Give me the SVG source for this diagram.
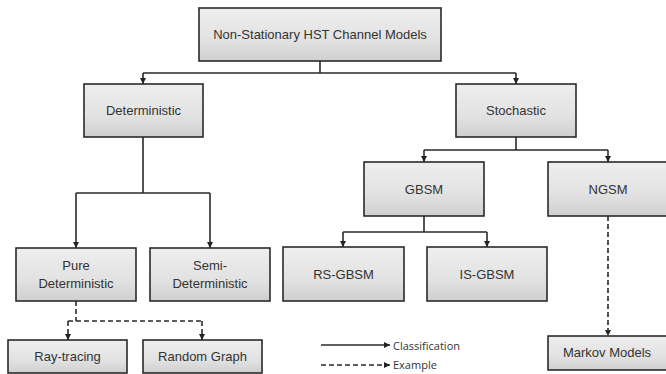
<svg xmlns="http://www.w3.org/2000/svg" width="666" height="374" viewBox="0 0 666 374">
<defs>
<linearGradient id="g" x1="0" y1="0" x2="0" y2="1">
<stop offset="0" stop-color="#eeeeee"/>
<stop offset="0.6" stop-color="#e2e2e2"/>
<stop offset="1" stop-color="#cfcfcf"/>
</linearGradient>
<marker id="ah" markerWidth="7" markerHeight="7" refX="6" refY="3" orient="auto" markerUnits="userSpaceOnUse">
<path d="M0,0 L6,3 L0,6 z" fill="#222"/>
</marker>
</defs>
<style>
.box{fill:url(#g);stroke:#2a2a2a;stroke-width:1.6}
.t{font-family:"Liberation Sans",Arial,sans-serif;font-size:13px;fill:#333;text-anchor:middle;dominant-baseline:central}
.lt{font-family:"Open Sans","Liberation Sans",sans-serif;font-size:11px;fill:#333;dominant-baseline:central}
.c{fill:none;stroke:#2a2a2a;stroke-width:1.6}
.ca{fill:none;stroke:#2a2a2a;stroke-width:1.6;marker-end:url(#ah)}
.d{fill:none;stroke:#2a2a2a;stroke-width:1.6;stroke-dasharray:5,3}
.da{fill:none;stroke:#2a2a2a;stroke-width:1.6;stroke-dasharray:5,3;marker-end:url(#ah)}
</style>
<g id="connectors">
<path class="c" d="M320,61 V73 M143,73 H516"/>
<path class="ca" d="M143,73 V84"/>
<path class="ca" d="M516,73 V84"/>
<path class="c" d="M143,137 V193 M76,193 H210"/>
<path class="ca" d="M76,193 V248"/>
<path class="ca" d="M210,193 V248"/>
<path class="c" d="M516,137 V150 M424,150 H608"/>
<path class="ca" d="M424,150 V162"/>
<path class="ca" d="M608,150 V162"/>
<path class="c" d="M424,216 V232 M343,232 H487"/>
<path class="ca" d="M343,232 V247"/>
<path class="ca" d="M487,232 V247"/>
<path class="d" d="M76,301 V321 M68,321 H202"/>
<path class="da" d="M68,321 V340"/>
<path class="da" d="M202,321 V340"/>
<path class="da" d="M608,216 V336"/>
<path class="ca" d="M321,345 H390"/>
<path class="da" d="M321,365 H390"/>
</g>
<g id="root"><rect class="box" x="199" y="8" width="242" height="53"/><text class="t" x="320" y="34.5">Non-Stationary HST Channel Models</text></g>
<g id="deterministic"><rect class="box" x="84" y="84" width="119" height="53"/><text class="t" x="143.5" y="110.5">Deterministic</text></g>
<g id="stochastic"><rect class="box" x="456" y="84" width="120" height="53"/><text class="t" x="516" y="110.5">Stochastic</text></g>
<g id="gbsm"><rect class="box" x="364" y="162" width="120" height="54"/><text class="t" x="424" y="189">GBSM</text></g>
<g id="ngsm"><rect class="box" x="548" y="162" width="120" height="54"/><text class="t" x="608" y="189">NGSM</text></g>
<g id="pure"><rect class="box" x="16" y="248" width="120" height="53"/><text class="t" x="76" y="265">Pure</text><text class="t" x="76" y="283">Deterministic</text></g>
<g id="semi"><rect class="box" x="150" y="248" width="120" height="53"/><text class="t" x="210" y="265">Semi-</text><text class="t" x="210" y="283">Deterministic</text></g>
<g id="rsgbsm"><rect class="box" x="283" y="247" width="121" height="54"/><text class="t" x="343.5" y="274">RS-GBSM</text></g>
<g id="isgbsm"><rect class="box" x="427" y="247" width="120" height="54"/><text class="t" x="487" y="274">IS-GBSM</text></g>
<g id="raytracing"><rect class="box" x="8" y="340" width="119" height="33"/><text class="t" x="67.5" y="356">Ray-tracing</text></g>
<g id="randomgraph"><rect class="box" x="143" y="340" width="119" height="33"/><text class="t" x="202.5" y="356">Random Graph</text></g>
<g id="markov"><rect class="box" x="548" y="336" width="120" height="34"/><text class="t" x="607" y="352.5">Markov Models</text></g>
<g id="legend"><text class="lt" x="393" y="345">Classification</text><text class="lt" x="393" y="364">Example</text></g>
</svg>
